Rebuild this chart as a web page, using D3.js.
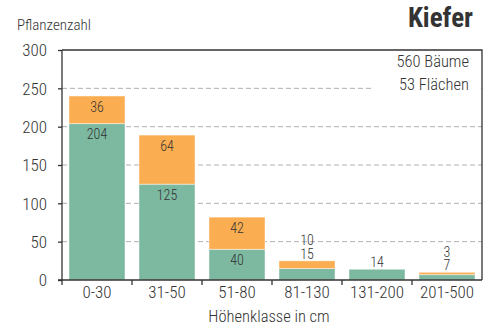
<!DOCTYPE html>
<html>
<head>
<meta charset="utf-8">
<script src="https://cdn.jsdelivr.net/npm/d3@7"></script>
<style>
  html, body { margin: 0; padding: 0; background: #fff; }
  svg text { font-family: "Roboto Condensed", "Liberation Sans Narrow", "DejaVu Sans Condensed", Roboto, sans-serif; font-stretch: condensed; font-weight: 300; fill: #333; }
</style>
</head>
<body>
<svg id="chart" width="486" height="325"></svg>
<script>
// Height classes and plant counts per class
const categories = ["0-30", "31-50", "51-80", "81-130", "131-200", "201-500"];
const lowerValues = [204, 125, 40, 15, 14, 7];   // green segment
const upperValues = [36, 64, 42, 10, 0, 3];      // orange segment
const yTicks = [0, 50, 100, 150, 200, 250, 300];
const title = "Kiefer";
const infoLines = ["560 Bäume", "53 Flächen"];

const svg = d3.select("#chart");
const plotLeft = 62, plotRight = 482, plotTop = 50, plotBottom = 280;
const green = "#7db9a1", orange = "#fbad51";

const x = d3.scaleBand().domain(categories).range([plotLeft, plotRight]).paddingInner(0.2).paddingOuter(0.1);
const y = d3.scaleLinear().domain([0, 300]).range([plotBottom, plotTop]);

// dashed grid lines
svg.append("g").selectAll("line")
  .data(yTicks.filter(v => v > 0 && v < 300))
  .join("line")
  .attr("x1", plotLeft).attr("x2", plotRight)
  .attr("y1", d => y(d)).attr("y2", d => y(d))
  .attr("stroke", "#b0b0b0").attr("stroke-width", 1)
  .attr("stroke-dasharray", "5,3");

// white box behind the info text
svg.append("rect").attr("x", 374).attr("y", plotTop + 1).attr("width", plotRight - 375).attr("height", 45).attr("fill", "#fff");

// stacked bars
const rows = categories.map((c, i) => ({ c, lo: lowerValues[i], hi: upperValues[i] }));
const bars = svg.append("g");
bars.selectAll("rect.lo").data(rows).join("rect")
  .attr("class", "lo")
  .attr("x", d => x(d.c)).attr("width", x.bandwidth())
  .attr("y", d => y(d.lo)).attr("height", d => y(0) - y(d.lo))
  .attr("fill", green).attr("stroke", "rgba(255,255,255,0.45)").attr("stroke-width", 1);
bars.selectAll("rect.hi").data(rows.filter(d => d.hi > 0)).join("rect")
  .attr("class", "hi")
  .attr("x", d => x(d.c)).attr("width", x.bandwidth())
  .attr("y", d => y(d.lo + d.hi)).attr("height", d => y(d.lo) - y(d.lo + d.hi))
  .attr("fill", orange).attr("stroke", "rgba(255,255,255,0.45)").attr("stroke-width", 1);

// value labels: inside large segments, stacked above small bars
const labels = svg.append("g").attr("text-anchor", "middle").style("font-size", "14px");
rows.forEach(d => {
  const cx = x(d.c) + x.bandwidth() / 2;
  if (d.lo >= 30) {
    labels.append("text").attr("x", cx).attr("y", y(d.lo) + 15.5).text(d.lo);
    if (d.hi > 0) labels.append("text").attr("x", cx).attr("y", y(d.lo + d.hi) + 15.5).text(d.hi);
  } else {
    const t = y(d.lo + d.hi) - 2;
    labels.append("text").attr("x", cx).attr("y", t).text(d.lo);
    if (d.hi > 0) labels.append("text").attr("x", cx).attr("y", t - 13.6).text(d.hi);
  }
});

// frame: top and right border
svg.append("path")
  .attr("d", `M${plotLeft},${plotTop}H${plotRight}V${plotBottom}`)
  .attr("fill", "none").attr("stroke", "#333").attr("stroke-width", 1.3);

// y axis
const yAxis = svg.append("g").attr("transform", `translate(${plotLeft},0)`)
  .call(d3.axisLeft(y).tickValues(yTicks).tickSize(4).tickPadding(11).tickSizeOuter(0));
yAxis.select(".domain").remove();
yAxis.selectAll("line").attr("stroke", "#333").attr("stroke-width", 1.3);
yAxis.selectAll("text").style("font-size", "17px").attr("fill", "#333").attr("dy", "0.35em");
svg.append("line").attr("x1", plotLeft).attr("x2", plotLeft).attr("y1", plotTop).attr("y2", plotBottom + 5)
  .attr("stroke", "#333").attr("stroke-width", 1.3);

// x axis
svg.append("line").attr("x1", plotLeft - 4).attr("x2", plotRight).attr("y1", plotBottom).attr("y2", plotBottom)
  .attr("stroke", "#333").attr("stroke-width", 1.3);
svg.append("g").selectAll("line").data(categories.slice(1)).join("line")
  .attr("x1", d => x(d) - x.step() * x.paddingInner() / 2)
  .attr("x2", d => x(d) - x.step() * x.paddingInner() / 2)
  .attr("y1", plotBottom).attr("y2", plotBottom + 5)
  .attr("stroke", "#333").attr("stroke-width", 1.3);
svg.append("g").attr("text-anchor", "middle").selectAll("text").data(categories).join("text")
  .attr("x", d => x(d) + x.bandwidth() / 2).attr("y", 298)
  .style("font-size", "17px").text(d => d);

// axis titles
svg.append("text").attr("x", 17).attr("y", 30).style("font-size", "15px").text("Pflanzenzahl");
svg.append("text").attr("x", 269).attr("y", 321.5).attr("text-anchor", "middle").style("font-size", "16.5px").text("Höhenklasse in cm");

// title and info text
svg.append("text").attr("x", 473).attr("y", 27).attr("text-anchor", "end")
  .style("font-size", "27px").style("font-weight", "bold").style("font-stretch", "normal").text(title);
svg.append("g").attr("text-anchor", "end").style("font-size", "16.5px")
  .selectAll("text").data(infoLines).join("text")
  .attr("x", 469).attr("y", (d, i) => 66.5 + i * 23.5).text(d => d);
</script>
</body>
</html>
